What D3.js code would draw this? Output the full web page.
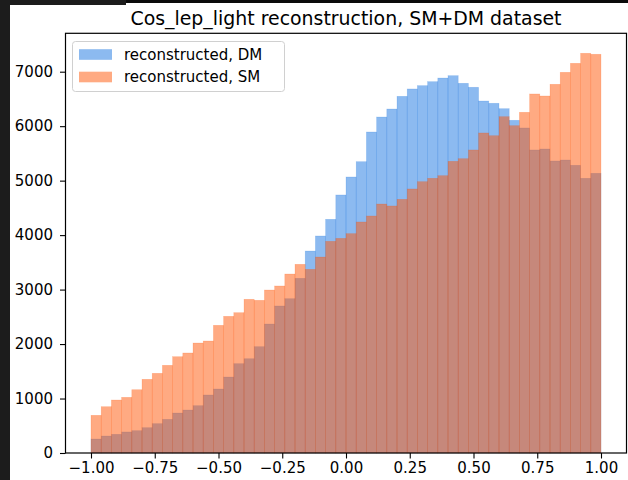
<!DOCTYPE html>
<html>
<head>
<meta charset="utf-8">
<script src="https://cdn.jsdelivr.net/npm/d3@7"></script>
<style>
  html, body { margin: 0; padding: 0; background: #1c1c1c; }
  svg { display: block; }
  text { font-family: "DejaVu Sans", sans-serif; fill: #000; }
</style>
</head>
<body>
<svg id="chart" width="628" height="480"></svg>
<script>
// Histogram binning: 50 equal bins over [-1, 1]
const binStart = -1.0;
const binWidth = 0.04;

// Bin counts per series
const dmCounts = [257, 312, 343, 386, 410, 465, 539, 618, 734, 789,
                  869, 1065, 1175, 1395, 1640, 1731, 1952, 2368, 2699, 2833,
                  3207, 3708, 3984, 4290, 4737, 5067, 5348, 5893, 6168, 6315,
                  6548, 6683, 6744, 6817, 6884, 6927, 6787, 6714, 6462, 6420,
                  6321, 6108, 5967, 5563, 5581, 5361, 5379, 5282, 5043, 5135];
const smCounts = [692, 850, 973, 1022, 1162, 1353, 1463, 1610, 1768, 1836,
                  2019, 2056, 2344, 2509, 2576, 2822, 2803, 2992, 3066, 3286,
                  3464, 3372, 3598, 3886, 3941, 4027, 4241, 4351, 4571, 4535,
                  4657, 4847, 4981, 5043, 5091, 5355, 5403, 5563, 5875, 5825,
                  6174, 6009, 6255, 6591, 6554, 6769, 6989, 7154, 7338, 7320];

const seriesNames = ["reconstructed, DM", "reconstructed, SM"];
const xTicks = [-1.0, -0.75, -0.5, -0.25, 0.0, 0.25, 0.5, 0.75, 1.0];
const yTicks = [0, 1000, 2000, 3000, 4000, 5000, 6000, 7000];
const titleText = "Cos_lep_light reconstruction, SM+DM dataset";

const seriesColors = ["#1975e1", "#ff5505"];
const seriesAlpha = 0.5;

const svg = d3.select("#chart");

// Figure canvas (white page over the dark surround)
svg.append("rect").attr("x", 0).attr("y", 0).attr("width", 628).attr("height", 480).attr("fill", "#1c1c1c");
svg.append("rect").attr("x", 126).attr("y", 0).attr("width", 502).attr("height", 3).attr("fill", "#0a0a0a");
svg.append("rect").attr("x", 10).attr("y", 5).attr("width", 618).attr("height", 475).attr("fill", "#fff");
svg.append("rect").attr("x", 126).attr("y", 3).attr("width", 502).attr("height", 2).attr("fill", "#fff");

const plot = { left: 65.5, right: 626.5, top: 33.3, bottom: 453 };

const yMax = d3.max(smCounts.concat(dmCounts)) * 1.05;
const x = d3.scaleLinear().domain([-1.1, 1.1]).range([plot.left, plot.right]);
const y = d3.scaleLinear().domain([0, yMax]).range([plot.bottom, plot.top]);

function binsOf(counts) {
  return counts.map((c, i) => ({ x0: binStart + i * binWidth, x1: binStart + (i + 1) * binWidth, count: c }));
}

const series = [dmCounts, smCounts];
series.forEach((counts, k) => {
  svg.append("g")
    .selectAll("rect")
    .data(binsOf(counts))
    .join("rect")
    .attr("x", d => x(d.x0))
    .attr("width", d => x(d.x1) - x(d.x0))
    .attr("y", d => y(d.count))
    .attr("height", d => y(0) - y(d.count))
    .attr("fill", seriesColors[k])
    .attr("fill-opacity", seriesAlpha)
    .attr("stroke", seriesColors[k])
    .attr("stroke-opacity", 0.25)
    .attr("stroke-width", 0.6);
});

// Axes
const yAxis = d3.axisLeft(y).tickValues(yTicks).tickFormat(d3.format("d")).tickSize(5.5).tickPadding(7);
const xAxis = d3.axisBottom(x).tickValues(xTicks).tickFormat(d3.format(".2f")).tickSize(5.5).tickPadding(4);

const gy = svg.append("g").attr("transform", `translate(${plot.left},0)`).call(yAxis);
const gx = svg.append("g").attr("transform", `translate(0,${plot.bottom})`).call(xAxis);
[gx, gy].forEach(g => {
  g.select(".domain").remove();
  g.selectAll(".tick line").attr("stroke", "#000").attr("stroke-width", 1.1);
  g.selectAll(".tick text").attr("font-size", 15).attr("font-family", "DejaVu Sans").attr("fill", "#000");
});

// Spines
svg.append("rect")
  .attr("x", plot.left).attr("y", plot.top)
  .attr("width", plot.right - plot.left).attr("height", plot.bottom - plot.top)
  .attr("fill", "none").attr("stroke", "#000").attr("stroke-width", 1.2);

// Title
svg.append("text")
  .attr("x", (plot.left + plot.right) / 2).attr("y", 24.5)
  .attr("text-anchor", "middle").attr("font-size", 18.9)
  .text(titleText);

// Legend
const legend = svg.append("g");
legend.append("rect")
  .attr("x", 72.5).attr("y", 41.5).attr("width", 212).attr("height", 50)
  .attr("rx", 3).attr("ry", 3)
  .attr("fill", "#fff").attr("fill-opacity", 0.8)
  .attr("stroke", "#d0d0d0").attr("stroke-width", 1);
seriesNames.forEach((name, k) => {
  const cy = 54.5 + k * 22.5;
  legend.append("rect")
    .attr("x", 79).attr("y", cy - 5.3).attr("width", 33).attr("height", 10.6)
    .attr("fill", seriesColors[k]).attr("fill-opacity", seriesAlpha);
  legend.append("text")
    .attr("x", 124).attr("y", cy + 5.3)
    .attr("font-size", 15)
    .text(name);
});
</script>
</body>
</html>
